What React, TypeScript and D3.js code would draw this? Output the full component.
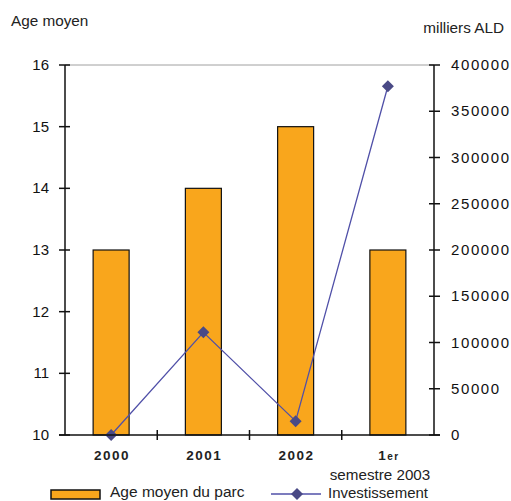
import React from "react";
import * as d3 from "d3";

const categories = ["2000", "2001", "2002", "1er semestre 2003"];
const ageMoyen = [13, 14, 15, 13];
const investissement = [0, 111000, 15000, 377000];
const leftTicks = [10, 11, 12, 13, 14, 15, 16];
const rightTicks = [0, 50000, 100000, 150000, 200000, 250000, 300000, 350000, 400000];

export default function App() {
  const W = 511, H = 501;
  const x0 = 65, x1 = 434, yTop = 65, yBot = 435;
  const x = d3.scaleBand<string>().domain(categories).range([x0, x1]);
  const yL = d3.scaleLinear().domain([10, 16]).range([yBot, yTop]);
  const yR = d3.scaleLinear().domain([0, 400000]).range([yBot, yTop]);
  const barW = 36;
  const font = "Liberation Sans, Arial, sans-serif";
  const line = d3
    .line<number>()
    .x((_, i) => (x(categories[i]) as number) + x.bandwidth() / 2)
    .y((d) => yR(d));
  const diamond = (cx: number, cy: number, r: number) =>
    `M${cx},${cy - r}L${cx + r},${cy}L${cx},${cy + r}L${cx - r},${cy}Z`;
  const boundaries = categories.slice(1).map((c) => x(c) as number);

  return (
    <svg width={W} height={H} style={{ position: "absolute", left: 0, top: 0, background: "#fff" }} fontFamily={font}>
      <text x={11} y={26} fontSize={15.3} fill="#222">Age moyen</text>
      <text x={504} y={33} fontSize={15.3} fill="#222" textAnchor="end">milliers ALD</text>
      <line x1={x0} x2={x1} y1={yTop} y2={yTop} stroke="#a0a0a0" strokeWidth={1} />
      {ageMoyen.map((v, i) => {
        const cx = (x(categories[i]) as number) + x.bandwidth() / 2;
        return (
          <rect key={i} x={cx - barW / 2} y={yL(v)} width={barW} height={yL(10) - yL(v)}
            fill="#f9a61c" stroke="#111" strokeWidth={1.2} />
        );
      })}
      <path d={line(investissement) as string} fill="none" stroke="#5050a8" strokeWidth={1.3} />
      {investissement.map((v, i) => {
        const cx = (x(categories[i]) as number) + x.bandwidth() / 2;
        return <path key={i} d={diamond(cx, yR(v), 6)} fill="#4a4a86" />;
      })}
      {/* left axis */}
      <line x1={x0} x2={x0} y1={yTop} y2={yBot} stroke="#111" strokeWidth={1.5} />
      {leftTicks.map((t) => (
        <g key={t}>
          <line x1={x0 - 6} x2={x0 + 5} y1={yL(t)} y2={yL(t)} stroke="#111" strokeWidth={1.5} />
          <text x={49} y={yL(t) + 5} fontSize={15} textAnchor="end" fill="#111">{t}</text>
        </g>
      ))}
      {/* right axis */}
      <line x1={x1} x2={x1} y1={yTop} y2={yBot} stroke="#111" strokeWidth={1.5} />
      {rightTicks.map((t) => (
        <g key={t}>
          <line x1={x1 - 5} x2={x1 + 6} y1={yR(t)} y2={yR(t)} stroke="#111" strokeWidth={1.5} />
          <text x={451} y={yR(t) + 5} fontSize={15} letterSpacing={1.6} fill="#111">{t}</text>
        </g>
      ))}
      {/* x axis */}
      <line x1={x0 - 6} x2={x1 + 6} y1={yBot} y2={yBot} stroke="#111" strokeWidth={1.5} />
      {boundaries.map((b, i) => (
        <line key={i} x1={b} x2={b} y1={yBot - 5} y2={yBot + 5} stroke="#111" strokeWidth={1.5} />
      ))}
      {categories.slice(0, 3).map((c) => (
        <text key={c} x={(x(c) as number) + x.bandwidth() / 2 + 1} y={460} fontSize={13.5} fontWeight="bold"
          textAnchor="middle" letterSpacing={1.5} fill="#222">{c}</text>
      ))}
      <text x={(x(categories[3]) as number) + x.bandwidth() / 2 + 1} y={460} fontSize={13.5} fontWeight="bold"
        textAnchor="middle" letterSpacing={1.5} fill="#222">1<tspan fontSize={10}>er</tspan></text>
      <text x={380} y={480} fontSize={15.2} textAnchor="middle" fill="#222">semestre 2003</text>
      {/* legend */}
      <rect x={51} y={490} width={49} height={9} fill="#f9a61c" stroke="#111" strokeWidth={1.5} />
      <text x={110} y={497} fontSize={15.5} fill="#222">Age moyen du parc</text>
      <line x1={271} x2={321} y1={494} y2={494} stroke="#5050a8" strokeWidth={1.5} />
      <path d={diamond(297, 494, 6)} fill="#4a4a86" />
      <text x={328} y={498} fontSize={15} fill="#222">Investissement</text>
    </svg>
  );
}
